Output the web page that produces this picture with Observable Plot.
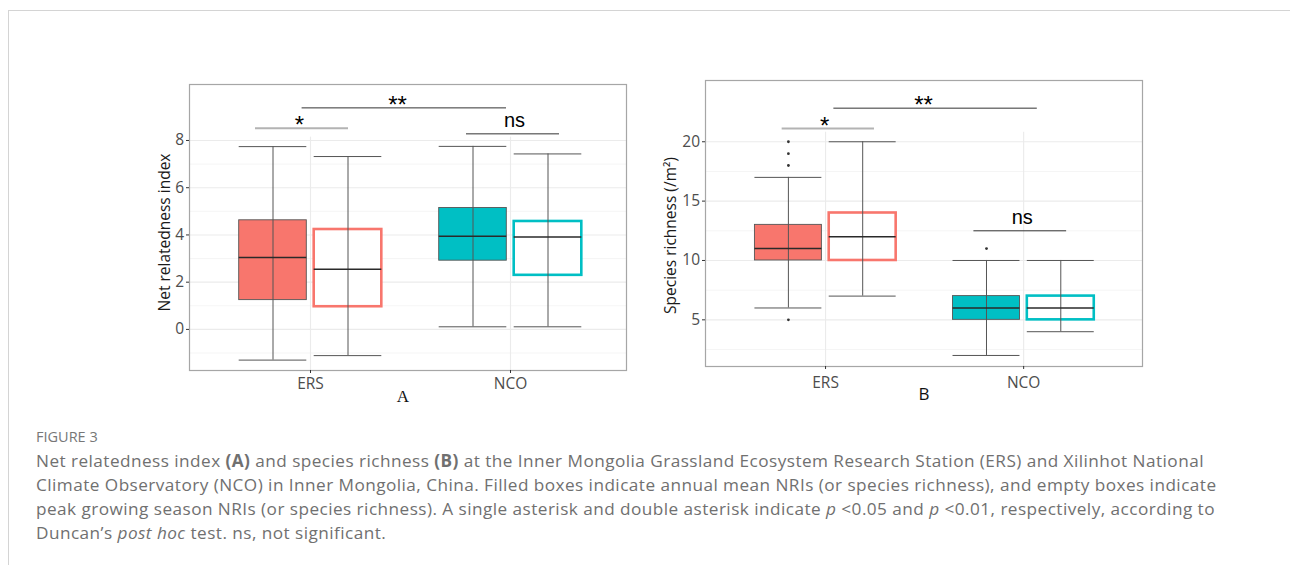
<!DOCTYPE html>
<html><head><meta charset="utf-8">
<script src="https://cdn.jsdelivr.net/npm/d3@7"></script>
<script src="https://cdn.jsdelivr.net/npm/@observablehq/plot@0.6"></script>
<style>
html,body{margin:0;padding:0;background:#fff}
body{width:1290px;height:565px;overflow:hidden;position:relative;font-family:"Open Sans",sans-serif}
#border{position:absolute;left:8px;top:10px;width:1290px;height:570px;border-top:1px solid #d4d4d4;border-left:1px solid #d4d4d4}
#pa{position:absolute;left:130px;top:60px}
#pb{position:absolute;left:645px;top:60px}
#pa svg,#pb svg{overflow:visible}
#fig{position:absolute;left:36px;top:428px;font-family:"Open Sans",sans-serif;font-size:14.5px;line-height:18px;color:#777}
#cap{position:absolute;left:36px;top:449px;font-family:"Open Sans",sans-serif;font-size:17.2px;letter-spacing:0.45px;line-height:24px;color:#707070;white-space:nowrap}
</style></head><body>
<div id="border"></div>
<div id="pa"></div>
<div id="pb"></div>
<div id="fig">FIGURE 3</div>
<div id="cap">Net relatedness index <b>(A)</b> and species richness <b>(B)</b> at the Inner Mongolia Grassland Ecosystem Research Station (ERS) and Xilinhot National<br>Climate Observatory (NCO) in Inner Mongolia, China. Filled boxes indicate annual mean NRIs (or species richness), and empty boxes indicate<br>peak growing season NRIs (or species richness). A single asterisk and double asterisk indicate <i>p</i> &lt;0.05 and <i>p</i> &lt;0.01, respectively, according to<br>Duncan’s <i>post hoc</i> test. ns, not significant.</div>
<script>
// ---- categories ----
const sites = ["ERS", "NCO"];
const seasons = ["annual mean", "peak growing season"]; // filled, empty

// ---- Panel A: Net relatedness index, order: [ERS annual, ERS peak, NCO annual, NCO peak] ----
const nriLow    = [-1.30, -1.11, 0.11, 0.11];
const nriQ1     = [1.24, 0.96, 2.91, 2.29];
const nriMedian = [3.05, 2.55, 3.94, 3.91];
const nriQ3     = [4.62, 4.23, 5.14, 4.57];
const nriHigh   = [7.74, 7.32, 7.75, 7.43];
const nriTicks = [0, 2, 4, 6, 8];
const nriMinorTicks = [-1, 1, 3, 5, 7];

// ---- Panel B: Species richness ----
const richLow    = [6, 7, 2, 4];
const richQ1     = [10, 10, 5, 5];
const richMedian = [11, 12, 6, 6];
const richQ3     = [13, 14, 7, 7];
const richHigh   = [17, 20, 10, 10];
const richOutSite   = ["ERS", "ERS", "ERS", "ERS", "NCO"];
const richOutSeason = ["annual mean", "annual mean", "annual mean", "annual mean", "annual mean"];
const richOutValue  = [20, 19, 18, 5, 11];
const richTicks = [5, 10, 15, 20];
const richMinorTicks = [2.5, 7.5, 12.5, 17.5];

// ---- significance brackets (x in category units: ERS = 1, NCO = 2) ----
const sigLabelA = ["**", "*", "ns"];
const sigFromA  = [0.958, 0.725, 1.78];
const sigToA    = [1.98, 1.19, 2.245];
const sigTextXA = [1.435, 0.945, 2.02];
const sigYA     = [9.38, 8.52, 8.28];
const sigLabelB = ["**", "*", "ns"];
const sigFromB  = [1.042, 0.781, 1.749];
const sigToB    = [2.069, 1.247, 2.217];
const sigTextXB = [1.495, 0.995, 1.993];
const sigYB     = [22.83, 21.12, 12.5];

// ---- styling constants ----
const siteColor = {ERS: "#F8766D", NCO: "#00BFC4"};
const dodge = 0.1875, halfW = 0.169;

function boxRows(lo, q1, med, q3, hi) {
  const rows = [];
  sites.forEach((s, i) => seasons.forEach((se, j) => {
    const k = i * 2 + j;
    const pos = i + 1 + (j === 0 ? -dodge : dodge);
    rows.push({site: s, season: se, filled: j === 0, pos, left: pos - halfW, right: pos + halfW,
      lo: lo[k], q1: q1[k], med: med[k], q3: q3[k], hi: hi[k]});
  }));
  return rows;
}
function sigRows(labels, from, to, tx, y) {
  return labels.map((l, i) => ({label: l, x1: from[i], x2: to[i], y: y[i], tx: tx[i]}));
}

function panel({rows, outliers, sig, ticks, minor, yDomain, xDomain, gridTop, ylabel, ylabelDx, ylabelDy,
                xlabel, xlabelFont, xlabelDx, xlabelDy, xTickPad, margins}) {
  const stars = sig.filter(d => d.label !== "ns");
  const ns = sig.filter(d => d.label === "ns");
  return Plot.plot({
    width: 510, height: 355,
    ...margins,
    style: {fontFamily: "'Open Sans', sans-serif", fontSize: "15px", color: "#4d4d4d", background: "transparent", overflow: "visible"},
    x: {type: "linear", domain: xDomain},
    y: {domain: yDomain},
    marks: [
      Plot.ruleY(minor, {stroke: "#f2f2f2", strokeWidth: 0.8}),
      Plot.ruleY(ticks, {stroke: "#ebebeb", strokeWidth: 1.1}),
      Plot.ruleX([1, 2], {y1: yDomain[0], y2: gridTop, stroke: "#ebebeb", strokeWidth: 1.1}),
      Plot.frame({stroke: "#a6a6a6", strokeWidth: 1.2}),
      Plot.rect(rows, {x1: "left", x2: "right", y1: "q1", y2: "q3",
        fill: d => d.filled ? siteColor[d.site] : "white",
        stroke: d => d.filled ? "#555" : siteColor[d.site],
        strokeWidth: d => d.filled ? 0.9 : 2.6}),
      Plot.ruleX(rows, {x: "pos", y1: "lo", y2: "hi", stroke: "#555", strokeWidth: 1}),
      Plot.ruleY(rows, {y: "hi", x1: "left", x2: "right", stroke: "#555", strokeWidth: 1}),
      Plot.ruleY(rows, {y: "lo", x1: "left", x2: "right", stroke: "#555", strokeWidth: 1}),
      Plot.ruleY(rows, {y: "med", x1: "left", x2: "right", stroke: "#2a2a2a", strokeWidth: 1.5}),
      Plot.dot(outliers, {x: "pos", y: "value", r: 1.4, fill: "#333", stroke: null}),
      Plot.ruleY(sig, {y: "y", x1: "x1", x2: "x2",
        stroke: d => d.label === "*" ? "#b3b3b3" : "#333",
        strokeWidth: d => d.label === "*" ? 2 : 1}),
      Plot.text(stars, {x: "tx", y: "y", text: "label", fill: "black",
        fontFamily: "'Liberation Sans', Arial, sans-serif", fontSize: 24, dy: -2.5}),
      Plot.text(ns, {x: "tx", y: "y", text: "label", fill: "black",
        fontFamily: "'Liberation Sans', Arial, sans-serif", fontSize: 20, dy: -13}),
      Plot.axisX({ticks: [1, 2], tickFormat: v => sites[v - 1], tickSize: 3, tickPadding: xTickPad, label: null,
        stroke: "#333", fill: "#4d4d4d", fontSize: 15.5, fontFamily: "'Open Sans', sans-serif"}),
      Plot.axisY({ticks, tickSize: 3, tickPadding: 2.5, label: null,
        stroke: "#333", fill: "#4d4d4d", fontSize: 15.5, fontFamily: "'Open Sans', sans-serif"}),
      Plot.text([ylabel], {frameAnchor: "left", textAnchor: "middle", rotate: -90, dx: ylabelDx, dy: ylabelDy,
        fill: "#1a1a1a", fontSize: 15.5, fontFamily: "'Open Sans', sans-serif"}),
      Plot.text([xlabel], {frameAnchor: "bottom", textAnchor: "middle", dx: xlabelDx, dy: xlabelDy,
        fill: "#111", fontSize: 17, fontFamily: xlabelFont})
    ]
  });
}

const rowsA = boxRows(nriLow, nriQ1, nriMedian, nriQ3, nriHigh);
const rowsB = boxRows(richLow, richQ1, richMedian, richQ3, richHigh);
const outB = richOutValue.map((v, i) => {
  const si = sites.indexOf(richOutSite[i]);
  const sj = seasons.indexOf(richOutSeason[i]);
  return {value: v, pos: si + 1 + (sj === 0 ? -dodge : dodge)};
});

document.getElementById("pa").append(panel({
  rows: rowsA, outliers: [], sig: sigRows(sigLabelA, sigFromA, sigToA, sigTextXA, sigYA),
  ticks: nriTicks, minor: nriMinorTicks, yDomain: [-1.74, 10.37], xDomain: [0.395, 2.58], gridTop: 8.14,
  ylabel: "Net relatedness index", ylabelDx: -24, ylabelDy: 5,
  xlabel: "A", xlabelFont: "'Liberation Serif', 'Times New Roman', serif", xlabelDx: -5, xlabelDy: 31,
  xTickPad: 4,
  margins: {marginLeft: 59, marginRight: 14, marginTop: 24, marginBottom: 45}
}));
document.getElementById("pb").append(panel({
  rows: rowsB, outliers: outB, sig: sigRows(sigLabelB, sigFromB, sigToB, sigTextXB, sigYB),
  ticks: richTicks, minor: richMinorTicks, yDomain: [1.07, 25.16], xDomain: [0.394, 2.6], gridTop: 20.8,
  ylabel: "Species richness (/m²)", ylabelDx: -34, ylabelDy: 12,
  xlabel: "B", xlabelFont: "'Open Sans', sans-serif", xlabelDx: 0, xlabelDy: 33.6,
  xTickPad: 7,
  margins: {marginLeft: 60, marginRight: 13, marginTop: 20, marginBottom: 49}
}));
</script>
</body></html>
